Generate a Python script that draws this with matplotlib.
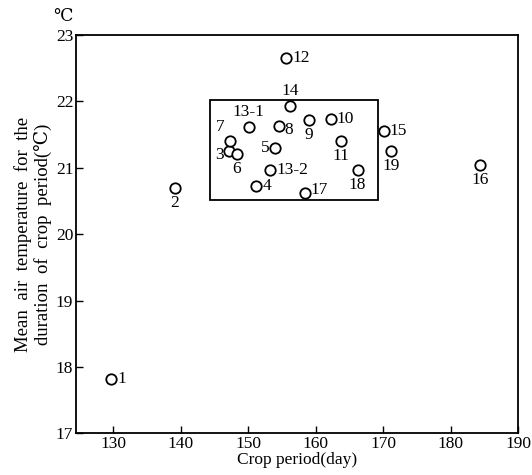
import numpy as np
import matplotlib
matplotlib.use("Agg")
import matplotlib.pyplot as plt
from matplotlib.patches import Rectangle

plt.rcParams['font.family'] = ['Liberation Serif', 'DejaVu Serif']

# data
labels = ['1', '2', '3', '4', '5', '6', '7', '8', '9', '10', '11', '12',
          '13-1', '13-2', '14', '15', '16', '17', '18', '19']
days = [129.7, 139.1, 147.1, 151.2, 154.0, 148.3, 147.3, 154.5, 159.0, 162.2,
        163.7, 155.6, 150.1, 153.3, 156.2, 170.1, 184.3, 158.4, 166.2, 171.2]
temps = [17.82, 20.70, 21.25, 20.72, 21.30, 21.21, 21.41, 21.63, 21.72, 21.73,
         21.41, 22.65, 21.61, 20.97, 21.93, 21.56, 21.05, 20.62, 20.96, 21.25]
# where each label sits relative to its circle
where = ['r', 'b', 'l', 'r', 'l', 'b', 'tl', 'r', 'b', 'r',
         'b', 'r', 't', 'r', 't', 'r', 'b', 'r', 'b', 'b']

box_x = [144.4, 169.3]
box_y = [20.51, 22.03]

fig = plt.figure(figsize=(5.32, 4.75), dpi=100)
ax = fig.add_axes([0.143, 0.088, 0.831, 0.838])

ax.plot(days, temps, 'o', mfc='white', mec='black', ms=7.5, mew=1.3)

pos = {
    'r': ((6, 0), 'left', 'center'),
    'l': ((-6, 0), 'right', 'center'),
    'b': ((0, -7), 'center', 'top'),
    't': ((0, 7), 'center', 'bottom'),
    'tl': ((-5, 6), 'right', 'bottom'),
}
for lab, x, y, w in zip(labels, days, temps, where):
    off, ha, va = pos[w]
    if lab == '3':
        off = (-5, -4)
    if lab == '8':
        off = (6, -4)
    if lab == '17':
        off = (6, 3)
    ax.annotate(lab, (x, y), xytext=off, textcoords='offset pixels',
                ha=ha, va=va, fontsize=12.5)

ax.add_patch(Rectangle((box_x[0], box_y[0]), box_x[1] - box_x[0],
                       box_y[1] - box_y[0], fill=False, ec='black', lw=1.3))

ax.set_xlim(124.5, 190)
ax.set_ylim(17, 23)
ax.set_xticks([130, 140, 150, 160, 170, 180, 190])
ax.set_yticks([17, 18, 19, 20, 21, 22, 23])
ax.tick_params(direction='in', length=5, width=1, labelsize=12.5, pad=2)
for s in ax.spines.values():
    s.set_linewidth(1.3)

ax.set_xlabel('Crop period(day)', fontsize=12.5, labelpad=0)
ax.set_ylabel('Mean  air  temperature  for  the\nduration  of  crop  period(\u2103)',
              fontsize=13.5, labelpad=3, linespacing=1.1)
ax.text(-0.03, 1.025, '\u2103', transform=ax.transAxes, fontsize=12.5,
        ha='center', va='bottom')

fig.savefig('out.png', dpi=100)
